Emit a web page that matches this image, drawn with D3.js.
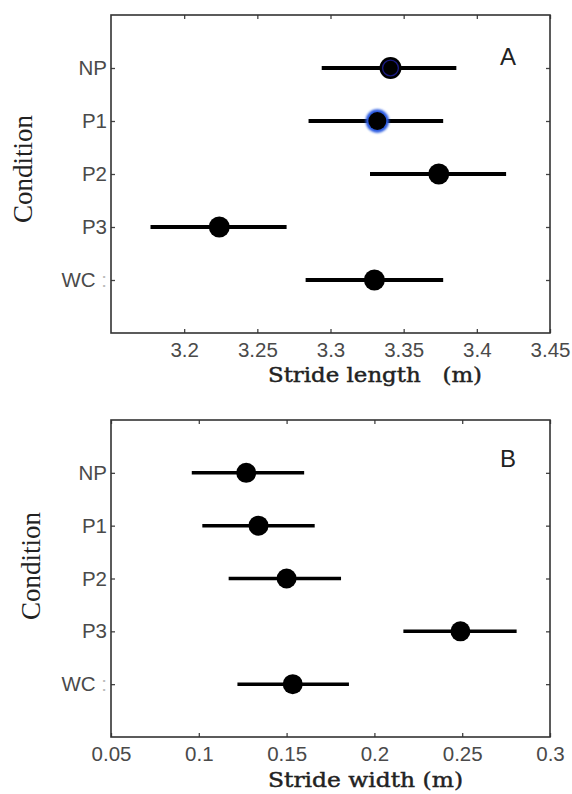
<!DOCTYPE html>
<html>
<head>
<meta charset="utf-8">
<script src="https://cdn.jsdelivr.net/npm/d3@7"></script>
<style>
  html, body { margin: 0; padding: 0; background: #fff; }
  svg { display: block; }
</style>
</head>
<body>
<script>
// Gait parameters per walking condition: mean with error-bar extent
const conditions = ["NP", "P1", "P2", "P3", "WC"];

const lengthMean = [3.341, 3.332, 3.374, 3.224, 3.330];
const lengthLow  = [3.294, 3.285, 3.327, 3.177, 3.283];
const lengthHigh = [3.386, 3.377, 3.420, 3.270, 3.377];
const lengthTicks = [3.2, 3.25, 3.3, 3.35, 3.4, 3.45];

const widthMean = [0.127, 0.134, 0.150, 0.249, 0.1535];
const widthLow  = [0.096, 0.102, 0.117, 0.2165, 0.122];
const widthHigh = [0.160, 0.166, 0.181, 0.281, 0.1855];
const widthTicks = [0.05, 0.1, 0.15, 0.2, 0.25, 0.3];

const W = 572, H = 794;
const svg = d3.select("body").append("svg").attr("width", W).attr("height", H);

const defs = svg.append("defs");
defs.append("filter").attr("id", "soft")
  .append("feGaussianBlur").attr("stdDeviation", 0.9);

function panel(opt) {
  const { left, right, top, bottom } = opt;
  const g = svg.append("g");

  const x = d3.scaleLinear().domain(opt.xDomain).range([left, right]);
  // five conditions spread over seven slots, leaving a gap at top and bottom
  const y = d3.scaleLinear().domain([0, conditions.length + 1]).range([top, bottom]);

  const rows = conditions.map((c, i) => ({
    c, i, mean: opt.mean[i], lo: opt.low[i], hi: opt.high[i]
  }));

  // bottom axis with inward ticks
  const bx = g.append("g").attr("transform", `translate(0,${bottom})`)
    .call(d3.axisBottom(x).tickValues(opt.ticks).tickFormat(d => String(d))
      .tickSizeInner(-4).tickSizeOuter(0).tickPadding(9));
  // top axis (ticks only)
  const tx = g.append("g").attr("transform", `translate(0,${top})`)
    .call(d3.axisTop(x).tickValues(opt.ticks).tickFormat("")
      .tickSizeInner(-4).tickSizeOuter(0));
  // left axis with condition labels
  const ly = g.append("g").attr("transform", `translate(${left},0)`)
    .call(d3.axisLeft(y).tickValues(d3.range(1, conditions.length + 1))
      .tickFormat(d => conditions[d - 1]).tickSizeInner(-4).tickSizeOuter(0).tickPadding(4));
  // right axis (ticks only)
  const ry = g.append("g").attr("transform", `translate(${right},0)`)
    .call(d3.axisRight(y).tickValues(d3.range(1, conditions.length + 1))
      .tickFormat("").tickSizeInner(-4).tickSizeOuter(0));

  [bx, tx, ly, ry].forEach(a => {
    a.select(".domain").remove();
    a.selectAll(".tick line").attr("stroke", "#444").attr("stroke-width", 1.3);
    a.selectAll("text").attr("font-family", "Liberation Sans, Arial, sans-serif")
      .attr("font-size", 20.5).attr("fill", "#4a4a4a");
  });
  // the last row label carries a faint trailing colon
  ly.selectAll(".tick text").filter(d => d === conditions.length)
    .text(null)
    .call(t => {
      t.append("tspan").text(conditions[conditions.length - 1]);
      t.append("tspan").attr("fill", "#bbb").text(" :");
    });

  // frame
  g.append("rect")
    .attr("x", left).attr("y", top)
    .attr("width", right - left).attr("height", bottom - top)
    .attr("fill", "none").attr("stroke", "#333").attr("stroke-width", 1.6);

  // error bars
  g.append("g").selectAll("line").data(rows).join("line")
    .attr("x1", d => x(d.lo)).attr("x2", d => x(d.hi))
    .attr("y1", d => y(d.i + 1)).attr("y2", d => y(d.i + 1))
    .attr("stroke", "#000").attr("stroke-width", opt.barWidth);

  // mean markers
  const m = g.append("g").selectAll("g").data(rows).join("g")
    .attr("transform", d => `translate(${x(d.mean)},${y(d.i + 1)})`);
  m.each(function (d) {
    const s = d3.select(this);
    const style = (opt.markerStyle || [])[d.i];
    if (style === "halo") {
      s.append("circle").attr("r", opt.r + 1.2).attr("fill", "#2a5ae0")
        .attr("filter", "url(#soft)");
      s.append("circle").attr("r", opt.r - 1.5).attr("fill", "#000");
    } else if (style === "ring") {
      s.append("circle").attr("r", opt.r + 0.5).attr("fill", "#000");
      s.append("circle").attr("r", opt.r - 2.6).attr("fill", "none")
        .attr("stroke", "#1a1a80").attr("stroke-width", 1.4);
    } else {
      s.append("circle").attr("r", opt.r).attr("fill", "#000");
    }
  });

  // panel letter
  g.append("text").attr("x", opt.letterX).attr("y", opt.letterY)
    .attr("text-anchor", "middle")
    .attr("font-family", "Liberation Sans, Arial, sans-serif")
    .attr("font-size", 24).attr("fill", "#222").text(opt.letter);

  // axis titles
  g.append("text").attr("x", opt.xTitleX).attr("y", opt.xTitleY)
    .attr("font-family", "DejaVu Serif, serif").attr("font-size", 20)
    .attr("fill", "#222").attr("stroke", "#222").attr("stroke-width", 0.45)
    .attr("textLength", opt.xTitleLen).attr("lengthAdjust", "spacingAndGlyphs")
    .attr("xml:space", "preserve")
    .text(opt.xTitle);

  g.append("text")
    .attr("transform", `translate(${opt.yTitleX},${opt.yTitleY}) rotate(-90)`)
    .attr("text-anchor", "middle")
    .attr("font-family", "Liberation Serif, Times New Roman, serif")
    .attr("font-size", 27).attr("fill", "#222")
    .text("Condition");
}

panel({
  left: 111, right: 550, top: 15, bottom: 333,
  xDomain: [3.15, 3.45], ticks: lengthTicks,
  mean: lengthMean, low: lengthLow, high: lengthHigh,
  markerStyle: ["ring", "halo", null, null, null],
  r: 10.5, barWidth: 4,
  letter: "A", letterX: 508, letterY: 65,
  xTitle: "Stride length   (m)", xTitleX: 268, xTitleY: 382, xTitleLen: 214,
  yTitleX: 32, yTitleY: 169
});

panel({
  left: 111, right: 550, top: 420, bottom: 737,
  xDomain: [0.05, 0.3], ticks: widthTicks,
  mean: widthMean, low: widthLow, high: widthHigh,
  r: 10, barWidth: 3.5,
  letter: "B", letterX: 508, letterY: 467,
  xTitle: "Stride width (m)", xTitleX: 268, xTitleY: 787, xTitleLen: 195,
  yTitleX: 40, yTitleY: 566
});
</script>
</body>
</html>
